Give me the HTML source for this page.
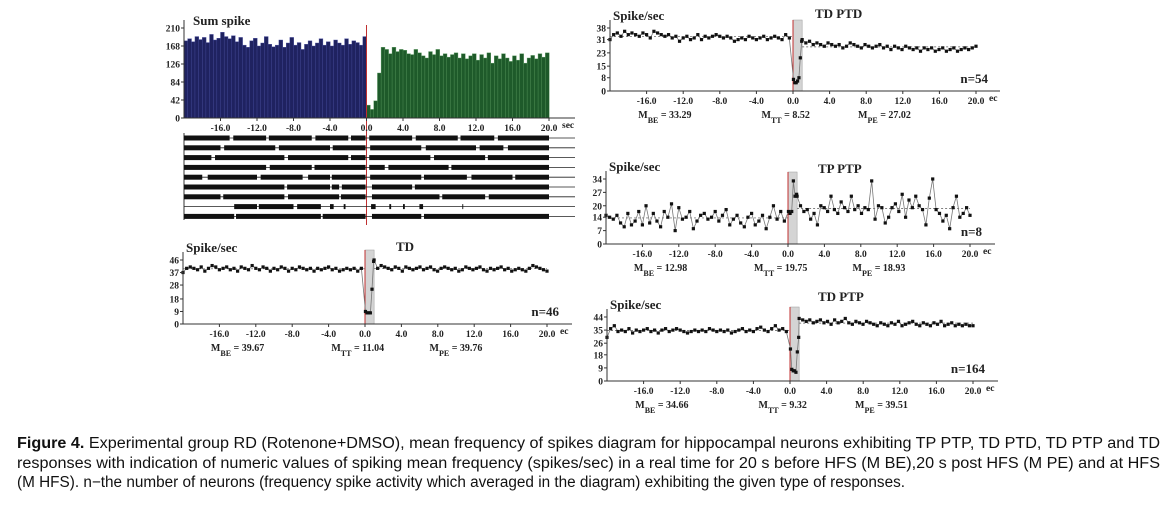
<!DOCTYPE html>
<html><head><meta charset="utf-8">
<style>
html,body{margin:0;padding:0;background:#fff;}
svg{display:block;}
.tk{font-family:"Liberation Serif",serif;font-weight:bold;font-size:9.5px;fill:#222;}
.lab{font-family:"Liberation Serif",serif;font-weight:bold;font-size:13px;fill:#222;}
.m{font-family:"Liberation Serif",serif;font-weight:bold;font-size:10px;fill:#222;}
.cap{font-family:"Liberation Sans",sans-serif;font-size:15.5px;fill:#111;}
</style></head>
<body>
<svg id="fig" width="1172" height="506" viewBox="0 0 1172 506" xmlns="http://www.w3.org/2000/svg">
<g id="panels"></g>
<g>
<text class="cap" x="17" y="448" textLength="1143" lengthAdjust="spacingAndGlyphs"><tspan font-weight="bold">Figure 4.</tspan> Experimental group RD (Rotenone+DMSO), mean frequency of spikes diagram for hippocampal neurons exhibiting TP PTP, TD PTD, TD PTP and TD</text>
<text class="cap" x="17" y="468" textLength="1143" lengthAdjust="spacingAndGlyphs">responses with indication of numeric values of spiking mean frequency (spikes/sec) in a real time for 20 s before HFS (M BE),20 s post HFS (M PE) and at HFS</text>
<text class="cap" x="17" y="487" textLength="888" lengthAdjust="spacingAndGlyphs">(M HFS). n−the number of neurons (frequency spike activity which averaged in the diagram) exhibiting the given type of responses.</text>
</g>
</svg>
<script>
// ---- Sum spike histogram data ----
const sumBefore=[180,185,178,190,183,188,176,195,182,186,200,190,185,192,178,188,170,165,180,186,168,175,190,172,166,170,182,165,175,188,170,176,160,172,180,168,175,185,170,178,168,182,175,170,185,172,180,176,170,190];
const sumAfter=[30,20,40,105,165,160,150,165,155,160,158,150,148,160,152,145,140,155,148,160,145,150,142,148,152,140,150,138,145,150,135,148,140,152,128,145,138,150,140,132,145,135,150,128,140,146,138,150,142,152];
const sumTicks=[0,42,84,126,168,210];
const xTicks=[-16,-12,-8,-4,0,4,8,12,16,20];
// raster rows: solid segments [start,end] in seconds
const raster=[
[[-20,-15],[-14.6,-11],[-10.7,-6],[-5.6,-2],[-1.7,-0.1],[0.3,5],[5.4,10],[10.3,14],[14.4,20]],
[[-20,-16],[-15.6,-10],[-9.6,-4],[-3.7,-0.1],[0.4,6],[6.5,12],[12.4,15],[15.5,20]],
[[-20,-17],[-16.6,-9],[-8.6,-2],[-1.7,-0.1],[0.3,7],[7.4,13],[13.3,20]],
[[-20,-11],[-10.6,-6],[-5.7,-0.1],[0.3,2],[2.4,9],[9.3,20]],
[[-20,-18],[-17.4,-12],[-11.6,-7],[-6.4,-4],[-3.8,-0.1],[0.4,6],[6.3,11],[11.5,16],[16.3,20]],
[[-20,-9],[-8.7,-4],[-3.8,-3],[-2.7,-0.1],[0.6,5],[5.3,20]],
[[-20,-16],[-15.7,-9],[-8.6,-3],[-2.8,-0.1],[0.6,8],[8.3,13],[13.4,20]],
[[-14.5,-12],[-11.8,-8],[-7.6,-5],[-4,-3.6],[-2.5,-2.3],[0.5,1],[2.5,2.7],[4,4.2],[5.8,6.2],[10.5,10.6]],
[[-20,-14.5],[-14.3,-5],[-4.8,-0.1],[0.6,6],[6.3,20]]
];
// ---- Line panels data ----
const ptdBefore=[31,34,35,33,36,34,35,34,33,35,34,32,36,35,34,33,34,32,33,30,32,33,31,32,34,31,33,32,33,34,33,32,33,32,30,31,32,31,33,32,31,32,33,31,32,33,32,31,34,32];
const ptdTT=[7,5,5,6,8,20,30];
const ptdAfter=[31,29,30,28,29,28,27,29,28,27,28,26,27,29,28,27,26,28,27,26,27,28,26,27,25,27,26,25,27,26,25,26,24,26,25,26,24,25,26,24,25,26,24,25,26,25,26,27];
const ptdTicks=[0,8,15,23,31,38];
const tdBefore=[37,40,41,40,39,41,38,40,42,41,39,40,41,39,40,38,41,40,39,42,40,39,41,40,38,40,39,41,40,38,40,39,41,40,39,40,38,40,39,40,41,39,40,38,39,40,39,40,38,40];
const tdTT=[9,8,8,8,25,45];
const tdAfter=[46,40,42,41,40,39,41,40,38,41,40,39,40,41,39,40,41,39,38,40,41,40,39,40,38,39,41,40,39,40,41,39,38,40,39,40,41,39,40,38,39,40,39,38,40,42,41,40,39,38];
const tdTicks=[0,9,18,28,37,46];
const tpBefore=[15,14,13,15,11,9,16,10,12,17,10,20,11,16,12,9,17,14,21,7,19,13,14,17,8,12,15,16,13,14,17,12,15,18,10,13,15,11,9,14,16,10,12,15,8,14,20,13,17,12];
const tpTT=[17,16,17,33,25,26];
const tpAfter=[25,20,17,18,13,16,10,20,19,17,25,18,16,22,19,17,25,18,20,16,19,18,33,13,20,19,11,14,19,21,17,26,14,23,19,25,20,18,10,24,34,18,16,12,15,8,19,25,14,16,19,15];
const tpTicks=[0,7,14,20,27,34];
const tdpBefore=[30,36,38,34,35,34,36,33,35,34,35,36,34,35,33,35,36,34,35,36,35,34,33,34,35,34,35,34,36,35,34,35,34,35,33,34,35,36,34,35,34,36,37,35,34,36,38,35,36,34];
const tdpTT=[22,8,7,7,6,20,30];
const tdpAfter=[43,42,41,42,40,41,42,40,41,39,42,40,41,43,40,39,41,40,39,41,40,39,38,40,39,38,40,39,41,38,39,40,41,39,38,40,39,38,40,39,41,38,39,40,38,39,38,39,38,38];
const tdpTicks=[0,9,18,26,35,44];

const NS="http://www.w3.org/2000/svg";
const root=document.getElementById('panels');
function mk(tag,attrs,parent,txt){const e=document.createElementNS(NS,tag);for(const k in attrs)e.setAttribute(k,attrs[k]);if(txt!=null)e.textContent=txt;(parent||root).appendChild(e);return e;}

function axes(g,cfg,ticks,X,Y){
  mk('line',{x1:cfg.x0,y1:cfg.top-8,x2:cfg.x0,y2:cfg.base,stroke:'#333','stroke-width':1},g);
  mk('line',{x1:cfg.x0,y1:cfg.base,x2:cfg.xEnd,y2:cfg.base,stroke:'#333','stroke-width':1},g);
  ticks.forEach(v=>{
    const y=Y(v);
    mk('line',{x1:cfg.x0-3,y1:y,x2:cfg.x0,y2:y,stroke:'#333'},g);
    const t=mk('text',{class:'tk',x:cfg.x0-4,y:y+3.5,'text-anchor':'end'},g,String(v));
    
    
  });
  xTicks.forEach(v=>{
    const x=X(v);
    mk('line',{x1:x,y1:cfg.base,x2:x,y2:cfg.base+3,stroke:'#333'},g);
    const t=mk('text',{class:'tk',x:x,y:cfg.base+13,'text-anchor':'middle'},g,v.toFixed(1));
    
    
  });
  mk('text',{class:'tk',x:X(20)+13,y:cfg.base+10,'font-size':'7px'},g,cfg.unit);
}

// ---- Sum spike panel ----
(function(){
  const cfg={x0:184,x1:549,base:118,top:28,ymax:210,xEnd:575,unit:'sec'};
  const g=mk('g',{});
  
  
  const X=s=>cfg.x0+(s+20)/40*(cfg.x1-cfg.x0);
  const Y=v=>cfg.base-v/cfg.ymax*(cfg.base-cfg.top);
  const bw=20/sumBefore.length;
  sumBefore.forEach((v,i)=>{
    const r=mk('rect',{x:X(-20+i*bw),y:Y(v),width:X(bw)-X(0)+0.2,height:cfg.base-Y(v),fill:'#1f2260',stroke:'#4a50a0','stroke-width':0.4},g);
    
    
  });
  sumAfter.forEach((v,i)=>{
    const r=mk('rect',{x:X(i*bw),y:Y(v),width:X(bw)-X(0)+0.2,height:cfg.base-Y(v),fill:'#1e5a2a',stroke:'#5a9a60','stroke-width':0.4},g);
    
    
  });
  mk('line',{x1:X(0),y1:cfg.top-3,x2:X(0),y2:225,stroke:'#c03030','stroke-width':1},g);
  axes(g,cfg,sumTicks,X,Y);
  const t=mk('text',{class:'lab',x:193,y:25},g,'Sum spike');
  
  
  // raster
  mk('line',{x1:cfg.x0,y1:133,x2:cfg.x0,y2:220,stroke:'#333'},g);
  raster.forEach((row,ri)=>{
    const y=138+ri*9.8;
    const l=mk('line',{x1:cfg.x0,y1:y,x2:cfg.xEnd,y2:y,stroke:'#222','stroke-width':0.8},g);
    
    
    row.forEach(seg=>{
      mk('rect',{x:X(seg[0]),y:y-2.5,width:Math.max(0.8,X(seg[1])-X(seg[0])),height:5,fill:'#111'},g);
    });
  });
})();

function linePanel(cfg,before,tt,after,ticks,name){
  const g=mk('g',{});
  
  
  const X=s=>cfg.x0+(s+20)/40*(cfg.x1-cfg.x0);
  const Y=v=>cfg.base-v/cfg.ymax*(cfg.base-cfg.top);
  mk('rect',{x:X(0),y:cfg.band,width:X(1)-X(0),height:cfg.base-cfg.band,fill:'#d4d4d4',stroke:'#999','stroke-width':0.5},g);
  mk('line',{x1:X(0),y1:cfg.band,x2:X(0),y2:cfg.base,stroke:'#c03030','stroke-width':1},g);
  const pts=[];
  before.forEach((v,i)=>pts.push([-20+i*20/before.length,v]));
  tt.forEach((v,i)=>pts.push([0.05+i*0.9/(tt.length-1),v]));
  after.forEach((v,i)=>pts.push([1+i*19/(after.length-1),v]));
  const mean=a=>a.reduce((s,v)=>s+v,0)/a.length;
  mk('line',{x1:X(-20),y1:Y(mean(before)),x2:X(0),y2:Y(mean(before)),stroke:'#555','stroke-width':0.7,'stroke-dasharray':'2,2'},g);
  mk('line',{x1:X(1),y1:Y(mean(after)),x2:X(20),y2:Y(mean(after)),stroke:'#555','stroke-width':0.7,'stroke-dasharray':'2,2'},g);
  const p=mk('polyline',{points:pts.map(q=>X(q[0]).toFixed(1)+','+Y(q[1]).toFixed(1)).join(' '),fill:'none',stroke:'#777','stroke-width':0.8},g);
  
  
  pts.forEach(q=>{
    const r=mk('rect',{x:X(q[0])-1.6,y:Y(q[1])-1.6,width:3.2,height:3.2,fill:'#111'},g);
    
    
  });
  axes(g,cfg,ticks,X,Y);
  const a=mk('text',{class:'lab',x:cfg.x0+3,y:cfg.top-8},g,'Spike/sec');
  
  
  const t=mk('text',{class:'lab',x:cfg.titleX,y:cfg.titleY},g,cfg.title);
  
  
  const n=mk('text',{class:'lab',x:cfg.x1+12,y:cfg.base-8,'text-anchor':'end','font-size':'14px'},g,cfg.n);
  
  
  const my=cfg.base+27;
  [[X(-14),'BE',cfg.mbe],[X(-0.8),'TT',cfg.mtt],[X(10),'PE',cfg.mpe]].forEach(m=>{
    const e=mk('text',{class:'m',x:m[0],y:my,'text-anchor':'middle'},g);
    
    
    mk('tspan',{},e,'M');
    mk('tspan',{dy:5,'font-size':'8px'},e,m[1]);
    mk('tspan',{dy:-5},e,' = '+m[2]);
  });
}
linePanel({x0:610,x1:976,base:91,top:28,ymax:38,xEnd:1000,band:20,unit:'ec',title:'TD PTD',titleX:815,titleY:18,n:'n=54',mbe:'33.29',mtt:'8.52',mpe:'27.02'},ptdBefore,ptdTT,ptdAfter,ptdTicks,'td-ptd-panel');
linePanel({x0:183,x1:547,base:324,top:260,ymax:46,xEnd:572,band:250,unit:'ec',title:'TD',titleX:396,titleY:251,n:'n=46',mbe:'39.67',mtt:'11.04',mpe:'39.76'},tdBefore,tdTT,tdAfter,tdTicks,'td-panel');
linePanel({x0:606,x1:970,base:244,top:179,ymax:34,xEnd:995,band:172,unit:'ec',title:'TP PTP',titleX:818,titleY:173,n:'n=8',mbe:'12.98',mtt:'19.75',mpe:'18.93'},tpBefore,tpTT,tpAfter,tpTicks,'tp-ptp-panel');
linePanel({x0:607,x1:973,base:381,top:317,ymax:44,xEnd:998,band:307,unit:'ec',title:'TD PTP',titleX:818,titleY:301,n:'n=164',mbe:'34.66',mtt:'9.32',mpe:'39.51'},tdpBefore,tdpTT,tdpAfter,tdpTicks,'td-ptp-panel');
</script>
</body></html>
